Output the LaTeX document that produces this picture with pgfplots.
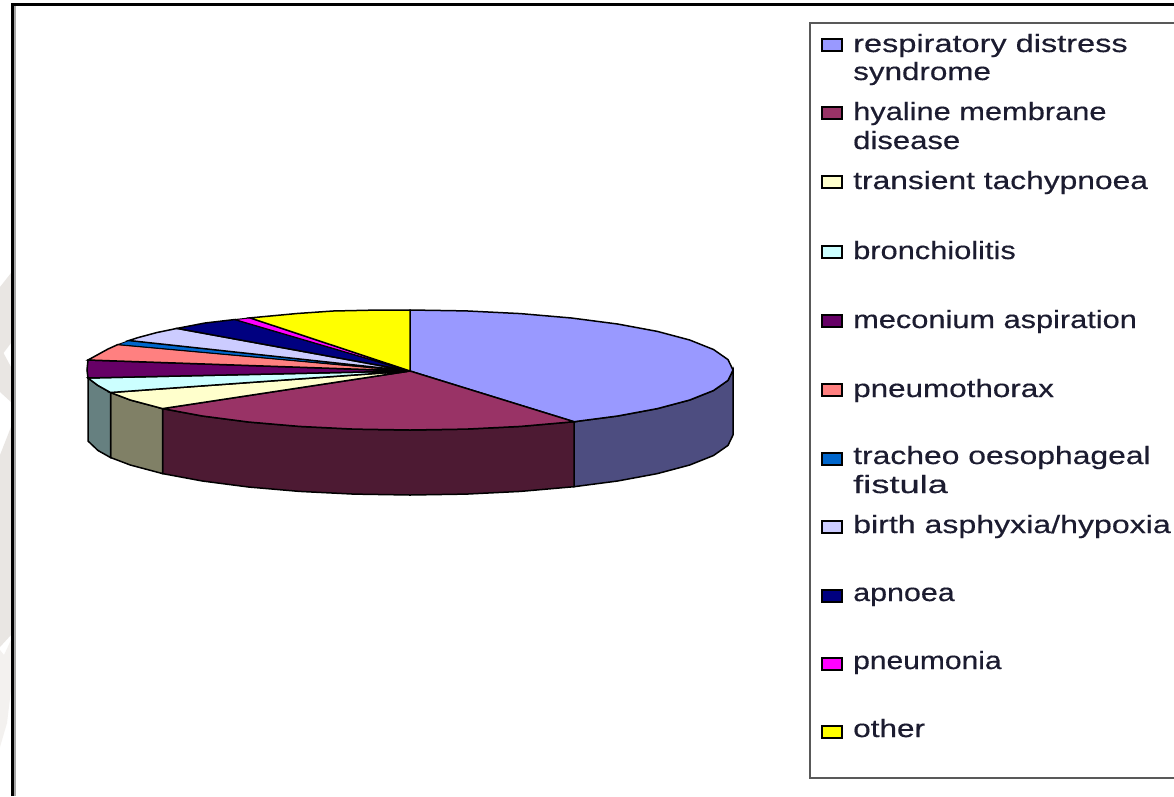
\documentclass[border=0pt]{standalone}
\usepackage{fontspec}
\usepackage{pgfplots}
\pgfplotsset{compat=1.18}
\setmainfont{Liberation Sans}
\newfontfamily\legfont{Liberation Sans}[FakeBold=0.35]
\definecolor{c1}{HTML}{9999FF}\definecolor{c1d}{HTML}{4D4D80}
\definecolor{c2}{HTML}{993366}\definecolor{c2d}{HTML}{4D1A33}
\definecolor{c3}{HTML}{FFFFCC}\definecolor{c3d}{HTML}{808066}
\definecolor{c4}{HTML}{CCFFFF}\definecolor{c4d}{HTML}{668080}
\definecolor{c5}{HTML}{660066}
\definecolor{c6}{HTML}{FF8080}
\definecolor{c7}{HTML}{0066CC}
\definecolor{c8}{HTML}{CCCCFF}
\definecolor{c9}{HTML}{000080}
\definecolor{c10}{HTML}{FF00FF}
\definecolor{c11}{HTML}{FFFF00}
\definecolor{wm}{HTML}{E9E6E3}
\definecolor{wml}{HTML}{F3F1EF}
\definecolor{legtxt}{HTML}{1C1C30}
% baseline y, horizontal stretch, text
\newcommand{\leg}[3]{\node[anchor=base west,inner sep=0pt,text=legtxt] at (axis cs:853,#1) {\fontsize{25}{30}\legfont\scalebox{#2}[1]{#3}};}
\newcommand{\swatch}[2]{\addplot[fill=#1,draw=black,line width=2.5pt] coordinates {(822,#2-6) (842,#2-6) (842,#2+6) (822,#2+6)} --cycle;}
\begin{document}
\begin{tikzpicture}
\begin{axis}[
    width=1174pt, height=796pt,
    scale only axis,
    hide axis,
    xmin=0, xmax=1174,
    ymin=0, ymax=796,
    y dir=reverse,
    clip=true,
]
% page
\addplot[fill=white,draw=none] coordinates {(0,0) (1174,0) (1174,796) (0,796)} --cycle;
\addplot[fill=wm,draw=none] coordinates {(0,287) (11,273) (11,343) (3.5,353) (11,367) (11,402) (0,392)} --cycle;
\addplot[fill=wm,draw=none] coordinates {(0,455) (11,427) (11,635) (0,647)} --cycle;
\addplot[fill=wml,draw=none] coordinates {(0,650) (4,655) (11,640) (11,690) (7,723) (0,747)} --cycle;
% frame, open at the bottom and right
\addplot[draw=gray!70,line width=1.5pt] coordinates {(14.8,796) (14.8,6)};
\addplot[draw=black,line width=3pt] coordinates {(12.5,796) (12.5,4.5) (1174,4.5)};
% rim of the pie
\addplot[fill=c1d,draw=black,line width=1.5pt] coordinates {(733,370) (733,435) (728,445.4) (713.5,455.5) (689.7,465) (657.4,473.6) (617.6,481) (574,486.7) (574,421.7) (617.6,416) (657.4,408.6) (689.7,400) (713.5,390.5) (728,380.4)} --cycle;
\addplot[fill=c2d,draw=black,line width=1.5pt] coordinates {(574,421.7) (574,486.7) (520.5,491.4) (466,494.1) (410,495) (354,494.1) (299.5,491.4) (248.5,487) (202.4,481) (162.6,473.6) (162.6,408.6) (202.4,416) (248.5,422) (299.5,426.4) (354,429.1) (410,430) (466,429.1) (520.5,426.4)} --cycle;
\addplot[fill=c3d,draw=black,line width=1.5pt] coordinates {(162.6,408.6) (162.6,473.6) (130.3,465) (110.5,457.5) (110.5,392.5) (130.3,400)} --cycle;
\addplot[fill=c4d,draw=black,line width=1.5pt] coordinates {(110.5,392.5) (110.5,457.5) (98,450.5) (88,441) (88,378) (98,385.5)} --cycle;
% top of the pie, one wedge per category
\addplot[fill=c1,draw=black,line width=1.5pt] coordinates {(410,371) (410,310) (466,310.9) (520.5,313.6) (571.5,318) (617.6,324) (657.4,331.4) (689.7,340) (713.5,349.5) (728,359.6) (733,370) (728,380.4) (713.5,390.5) (689.7,400) (657.4,408.6) (617.6,416) (574,421.7)} --cycle;
\addplot[fill=c2,draw=black,line width=1.5pt] coordinates {(410,371) (574,421.7) (520.5,426.4) (466,429.1) (410,430) (354,429.1) (299.5,426.4) (248.5,422) (202.4,416) (162.6,408.6)} --cycle;
\addplot[fill=c3,draw=black,line width=1.5pt] coordinates {(410,371) (162.6,408.6) (130.3,400) (110.5,392.5)} --cycle;
\addplot[fill=c4,draw=black,line width=1.5pt] coordinates {(410,371) (110.5,392.5) (98,385.5) (88,378)} --cycle;
\addplot[fill=c5,draw=black,line width=1.5pt] coordinates {(410,371) (88,378) (87,370) (88,360)} --cycle;
\addplot[fill=c6,draw=black,line width=1.5pt] coordinates {(410,371) (88,360) (98,354.5) (108,349) (118,344.5)} --cycle;
\addplot[fill=c7,draw=black,line width=0.8pt] coordinates {(410,371) (118,344.5) (129,340.5)} --cycle;
\addplot[fill=c8,draw=black,line width=1.5pt] coordinates {(410,371) (129,340.5) (138,337.6) (157,332.5) (177,328.4)} --cycle;
\addplot[fill=c9,draw=black,line width=1.5pt] coordinates {(410,371) (177,328.4) (205,323) (235,319.5)} --cycle;
\addplot[fill=c10,draw=black,line width=1pt] coordinates {(410,371) (235,319.5) (250,317.9)} --cycle;
\addplot[fill=c11,draw=black,line width=1.5pt] coordinates {(410,371) (250,317.9) (297,313.5) (333,311) (370,310.2) (410,310)} --cycle;
% legend
\addplot[draw=gray!70!black,fill=white,line width=2.5pt] coordinates {(1190,23) (810,23) (810,778) (1190,778)};
\swatch{c1}{45}
\swatch{c2}{113}
\swatch{c3}{182}
\swatch{c4}{252}
\swatch{c5}{321}
\swatch{c6}{390}
\swatch{c7}{459}
\swatch{c8}{527}
\swatch{c9}{596}
\swatch{c10}{664}
\swatch{c11}{732}
\leg{52}{1.30}{respiratory distress}
\leg{80}{1.255}{syndrome}
\leg{120}{1.232}{hyaline membrane}
\leg{149}{1.242}{disease}
\leg{189}{1.27}{transient tachypnoea}
\leg{259}{1.232}{bronchiolitis}
\leg{328}{1.23}{meconium aspiration}
\leg{397}{1.256}{pneumothorax}
\leg{464}{1.274}{tracheo oesophageal}
\leg{493}{1.45}{fistula}
\leg{533}{1.284}{birth asphyxia/hypoxia}
\leg{601}{1.217}{apnoea}
\leg{669}{1.2}{pneumonia}
\leg{737}{1.26}{other}
\end{axis}
\end{tikzpicture}
\end{document}
